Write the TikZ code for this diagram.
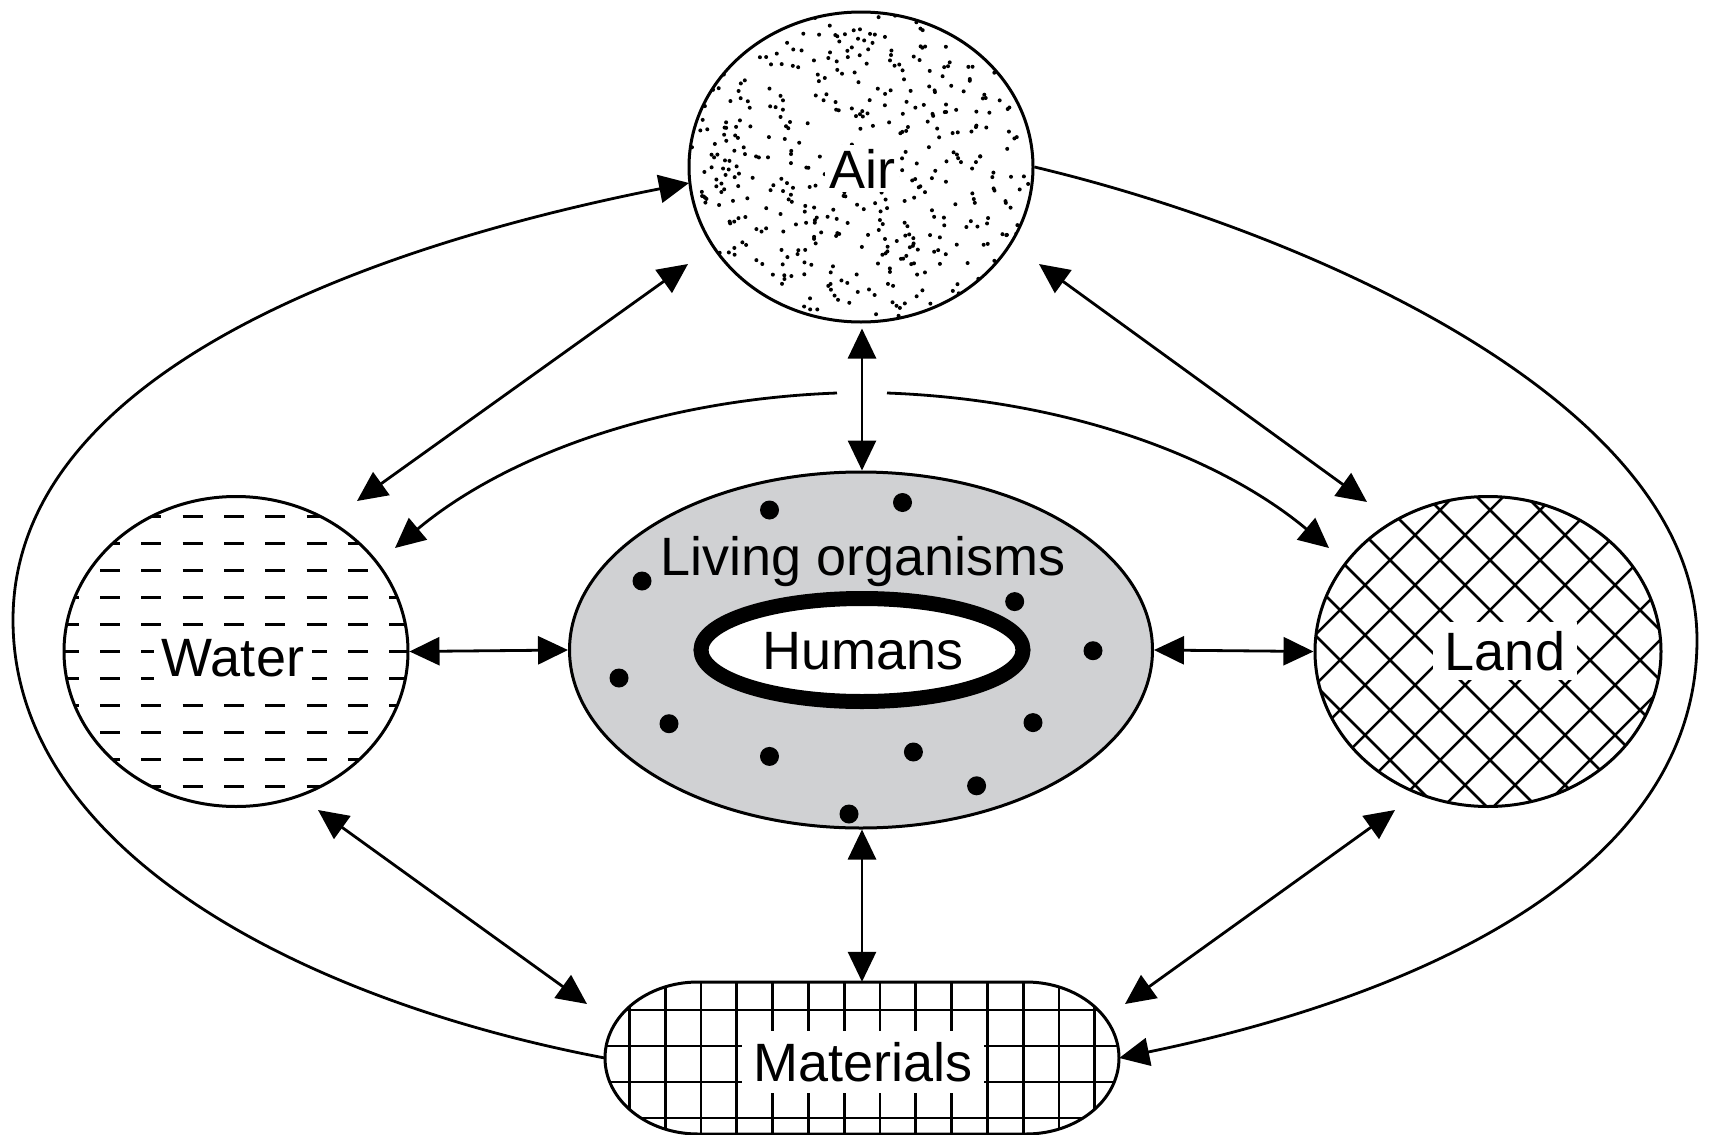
\documentclass[tikz,border=0pt]{standalone}
\usepackage{fontspec}
\setmainfont{Liberation Sans}
\usetikzlibrary{arrows.meta,shapes.geometric,calc}
\definecolor{livgray}{RGB}{208,209,211}
\newcommand{\matshape}{(698,982) -- (1026,982) arc[start angle=-90,end angle=90,x radius=93,y radius=76] -- (698,1134) arc[start angle=90,end angle=270,x radius=93,y radius=76] -- cycle}
\begin{document}
\begin{tikzpicture}[x=1pt,y=-1pt,
  lbl/.style={font=\fontsize{54}{60}\selectfont, inner sep=0pt, text=black},
  bigtip/.tip={Triangle[length=30pt,width=28pt]},
  conn/.style={line width=2.8pt},
  dbl/.style={conn,bigtip-bigtip},
  sgl/.style={conn,-bigtip},
  region/.style={draw, line width=3pt, ellipse, inner sep=0pt},
  dashmark/.style={line width=3.2pt},
  hatchline/.style={line width=2.5pt},
  gridline/.style={line width=2.7pt}
]
\useasboundingbox (0,0) rectangle (1709,1135);
\fill[white] (0,0) rectangle (1709,1135);

% ---- Air stipple
\begin{scope}
\clip (861,167) ellipse (172 and 155);
\pgfmathsetseed{4242}
\foreach \i in {1,...,560}{
  \pgfmathsetmacro{\px}{861+172*rand}
  \pgfmathsetmacro{\py}{167+155*rand}
  \fill (\px,\py) circle (2);
}
\end{scope}

% ---- Water dashes
\begin{scope}
\clip (236,651.5) ellipse (172 and 155);
\foreach \r in {-5,...,5}{
  \foreach \j in {-5,...,5}{
    \draw[dashmark] ({234+41.3*\j-10},{651.5+27*\r}) -- ({234+41.3*\j+10},{651.5+27*\r});
  }
}
\end{scope}

% ---- Land cross-hatch
\begin{scope}
\clip (1488,651.5) ellipse (173 and 155);
\foreach \c in {1800,1850,...,2500}{\draw[hatchline] ({\c-480},480) -- ({\c-830},830);}
\foreach \d in {480,530,...,1230}{\draw[hatchline] ({\d+480},480) -- ({\d+830},830);}
\end{scope}

% ---- Materials grid
\begin{scope}
\clip \matshape;
\foreach \k in {-8,...,7}{\draw[gridline] ({880+35.8*\k},970) -- ({880+35.8*\k},1150);}
\foreach \y in {1010,1046,1082,1118}{\draw[gridline] (590,\y) -- (1130,\y);}
\end{scope}
\draw[line width=3pt] \matshape;
\node[inner sep=0pt, minimum width=514pt, minimum height=152pt] (materials) at (862,1058) {};

% ---- Living organisms
\node[region, fill=livgray, minimum width=583pt, minimum height=356pt] (living) at (861,650) {};
\foreach \p in {(769.5,510),(902.5,502.5),(642,581),(1014.7,601.6),(1093,650.7),(619,678),(669,723.7),(1033,722.6),(769.5,756.4),(913.4,752),(976.6,785.8),(849,814)}{
  \fill \p circle (9.5);
}
\node[draw, ellipse, line width=15pt, fill=white, minimum width=322pt, minimum height=103pt] (humans) at (862,650) {};
\node[lbl, anchor=base] (humlbl) at (863,669) {Humans};
\node[lbl, anchor=base] (livlbl) at (863,575) {Living organisms};

% ---- Circles
\node[region, minimum width=344pt, minimum height=310pt] (air) at (861,167) {};
\node[region, minimum width=344pt, minimum height=310pt] (water) at (236,651.5) {};
\node[region, minimum width=346pt, minimum height=310pt] (land) at (1488,651.5) {};

% ---- Labels
\node[lbl, anchor=base, fill=white, inner sep=4pt] (airlbl) at (862,188) {Air};
\node[lbl, anchor=base, fill=white, inner xsep=8pt, inner ysep=6pt] (waterlbl) at (233,676) {Water};
\node[lbl, anchor=base, fill=white, inner xsep=12pt, inner ysep=9pt] (landlbl) at (1505,670) {Land};
\node[lbl, anchor=base, fill=white, inner xsep=11pt, inner ysep=11pt] (matlbl) at (863,1081) {Materials};

% ---- Connector end points
\coordinate (aw-a) at (688,264);
\coordinate (aw-w) at (357,501);
\coordinate (al-a) at (1039,264);
\coordinate (al-l) at (1367,502);
\coordinate (wm-w) at (318,810);
\coordinate (wm-m) at (587,1004);
\coordinate (lm-l) at (1395,810);
\coordinate (lm-m) at (1125,1004);
\coordinate (cl-s) at (837,393);
\coordinate (cl-e) at (395,548);
\coordinate (cr-s) at (887,393);
\coordinate (cr-e) at (1329,548);
\coordinate (air-in) at (689,183);

% ---- Connectors
\draw[dbl] ($(air.south)+(1,5)$) -- (living.north -| humans.north);
\draw[dbl] (living.south -| humans.south) -- (materials.north -| humans.south);
\draw[dbl] (water.east) -- (living.west);
\draw[dbl] (living.east) -- (land.west);
\draw[dbl] (aw-a) -- (aw-w);
\draw[dbl] (al-a) -- (al-l);
\draw[dbl] (wm-w) -- (wm-m);
\draw[dbl] (lm-l) -- (lm-m);
\draw[sgl] (cl-s) .. controls (650,400) and (500,460) .. (cl-e);
\draw[sgl] (cr-s) .. controls (1074,400) and (1224,460) .. (cr-e);
\draw[sgl] (materials.west) .. controls (300,1000) and (13,850) .. (13,620) .. controls (13,380) and (350,250) .. (air-in);
\draw[sgl] (air.east) .. controls (1300,230) and (1697,400) .. (1697,640) .. controls (1697,880) and (1400,1000) .. (materials.east);
\end{tikzpicture}
\end{document}
